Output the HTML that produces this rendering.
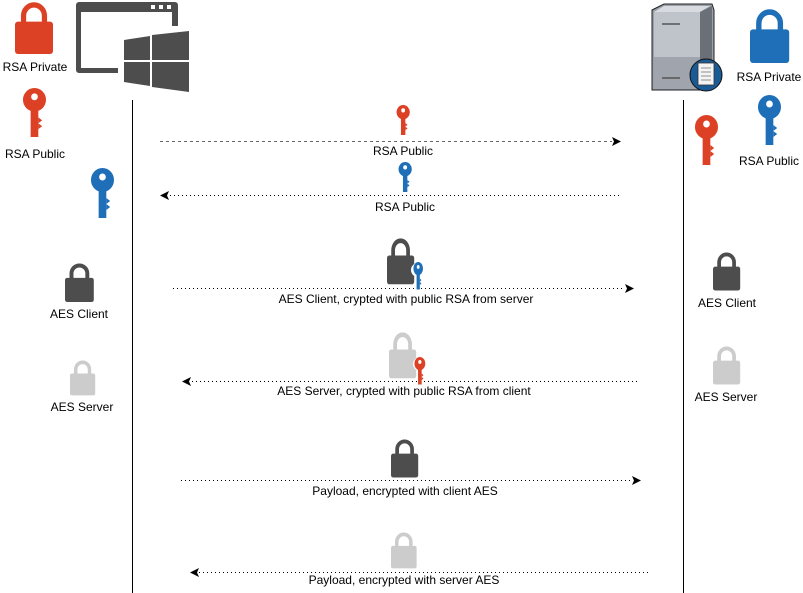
<!DOCTYPE html>
<html><head><meta charset="utf-8"><style>
html,body{margin:0;padding:0;background:#fff;}
svg{display:block;}
text{font-family:"Liberation Sans",Arial,sans-serif;font-size:12px;fill:#000;text-anchor:middle;}
</style></head><body>
<svg width="803" height="593" viewBox="0 0 803 593" xmlns="http://www.w3.org/2000/svg">
<defs>
<g id="lock">
<path d="M9,21 V13 A11,11 0 0 1 31,13 V21" fill="none" stroke-width="5.5"/>
<rect x="0" y="19" width="40" height="33" rx="3" stroke="none"/>
</g>
<g id="key">
<circle cx="13" cy="12" r="12"/>
<rect x="9" y="20" width="8" height="30"/>
<polygon points="17,30 21,33 17,36 21,39 17,42"/>
<circle cx="13" cy="9" r="3.5" fill="#fff"/>
</g>
</defs>

<line x1="132.5" y1="100" x2="132.5" y2="593" stroke="#000" stroke-width="1"/>
<line x1="683.5" y1="100" x2="683.5" y2="593" stroke="#000" stroke-width="1"/>

<g fill="#DD4125" stroke="#DD4125"><use href="#lock" transform="translate(15,3) scale(0.95,0.98)"/></g>
<text x="35" y="71">RSA Private</text>
<g fill="#DD4125"><use href="#key" transform="translate(22,88) scale(0.96,0.98)"/></g>
<text x="35" y="158">RSA Public</text>
<g fill="#1E6FB8"><use href="#key" transform="translate(90,168) scale(0.96,1)"/></g>

<path d="M79,2 H175 a3,3 0 0 1 3,3 V26 H172 V12 H81 V68 H118 V73 H79 a3,3 0 0 1 -3,-3 V5 a3,3 0 0 1 3,-3Z" fill="#4D4D4D"/>
<rect x="151" y="5" width="4" height="4" fill="#fff"/><rect x="159" y="5" width="4" height="4" fill="#fff"/><rect x="167" y="5" width="4" height="4" fill="#fff"/>
<path d="M124,40 L150,36 V60 H124Z M152,35 L189,31 V60 H152Z M124,62 H150 V86 L124,82Z M152,62 H189 V92 L152,87Z" fill="#4D4D4D"/>

<path d="M652,10 L664,4 H712 L714,10 V86 L700,90 H652 Z" fill="#9aa0a8" stroke="#222" stroke-width="1"/>
<path d="M654,12 L664,6 H710 L700,12 Z" fill="#d8dbe0"/>
<rect x="654" y="12" width="46" height="45" fill="#bfc3ca"/>
<rect x="654" y="57" width="46" height="32" fill="#a0a5ad"/>
<path d="M700,12 L712,6 V84 L700,89Z" fill="#6a6f78"/>
<line x1="662" y1="24" x2="680" y2="24" stroke="#555" stroke-width="1.5"/>
<line x1="662" y1="78" x2="680" y2="78" stroke="#555" stroke-width="1.5"/>
<circle cx="706" cy="75" r="16" fill="#1a5a95" stroke="#111"/>
<rect x="698" y="63" width="16" height="22" fill="#f4f4f4" stroke="#333" stroke-width="0.8"/>
<g stroke="#666" stroke-width="0.7"><line x1="701" y1="68" x2="711" y2="68"/><line x1="701" y1="72" x2="711" y2="72"/><line x1="701" y1="76" x2="711" y2="76"/><line x1="701" y1="80" x2="711" y2="80"/></g>

<g fill="#1E6FB8" stroke="#1E6FB8"><use href="#lock" transform="translate(750,10) scale(0.98,1.02)"/></g>
<text x="769" y="81">RSA Private</text>
<g fill="#1E6FB8"><use href="#key" transform="translate(757,95) scale(0.96,1)"/></g>
<text x="769" y="165">RSA Public</text>
<g fill="#DD4125"><use href="#key" transform="translate(694,115) scale(0.96,1)"/></g>

<line x1="160" y1="141.5" x2="612" y2="141.5" stroke="#666" stroke-dasharray="3,3"/>
<polygon points="621,141.5 612,137 614,141.5 612,146" fill="#000"/>
<g fill="#DD4125"><use href="#key" transform="translate(396,105) scale(0.55,0.6)"/></g>
<text x="403" y="155">RSA Public</text>

<line x1="170" y1="195.5" x2="620" y2="195.5" stroke="#000" stroke-dasharray="1,3"/>
<polygon points="160,195.5 169,191 167,195.5 169,200" fill="#000"/>
<g fill="#1E6FB8"><use href="#key" transform="translate(398,162) scale(0.55,0.6)"/></g>
<text x="405" y="211">RSA Public</text>

<line x1="173" y1="288.5" x2="625" y2="288.5" stroke="#000" stroke-dasharray="1,3"/>
<polygon points="634,288.5 625,284 627,288.5 625,293" fill="#000"/>
<g fill="#4D4D4D" stroke="#4D4D4D"><use href="#lock" transform="translate(387,239) scale(0.68,0.87)"/></g>
<circle cx="418" cy="270" r="7" fill="#fff"/>
<g fill="#1E6FB8"><use href="#key" transform="translate(413,262) scale(0.4,0.55)"/></g>
<text x="406" y="303">AES Client, crypted with public RSA from server</text>

<line x1="192" y1="381.5" x2="640" y2="381.5" stroke="#000" stroke-dasharray="1,3"/>
<polygon points="182,381.5 191,377 189,381.5 191,386" fill="#000"/>
<g fill="#CCCCCC" stroke="#CCCCCC"><use href="#lock" transform="translate(389,333) scale(0.68,0.87)"/></g>
<circle cx="420" cy="364" r="7" fill="#fff"/>
<g fill="#DD4125"><use href="#key" transform="translate(414,357) scale(0.45,0.55)"/></g>
<text x="404" y="395">AES Server, crypted with public RSA from client</text>

<line x1="181" y1="480.5" x2="632" y2="480.5" stroke="#000" stroke-dasharray="1,3"/>
<polygon points="641,480.5 632,476 634,480.5 632,485" fill="#000"/>
<g fill="#4D4D4D" stroke="#4D4D4D"><use href="#lock" transform="translate(391,440) scale(0.68,0.72)"/></g>
<text x="405" y="495">Payload, encrypted with client AES</text>

<line x1="199" y1="572.5" x2="648" y2="572.5" stroke="#000" stroke-dasharray="1,3"/>
<polygon points="190,572.5 199,568 197,572.5 199,577" fill="#000"/>
<g fill="#CCCCCC" stroke="#CCCCCC"><use href="#lock" transform="translate(391,533) scale(0.64,0.68)"/></g>
<text x="404" y="584">Payload, encrypted with server AES</text>

<g fill="#4D4D4D" stroke="#4D4D4D"><use href="#lock" transform="translate(65,264) scale(0.72,0.73)"/></g>
<text x="79" y="318">AES Client</text>
<g fill="#CCCCCC" stroke="#CCCCCC"><use href="#lock" transform="translate(70,361) scale(0.63,0.66)"/></g>
<text x="82" y="411">AES Server</text>

<g fill="#4D4D4D" stroke="#4D4D4D"><use href="#lock" transform="translate(713,253) scale(0.68,0.72)"/></g>
<text x="727" y="307">AES Client</text>
<g fill="#CCCCCC" stroke="#CCCCCC"><use href="#lock" transform="translate(713,347) scale(0.68,0.72)"/></g>
<text x="726" y="401">AES Server</text>
</svg>
</body></html>
